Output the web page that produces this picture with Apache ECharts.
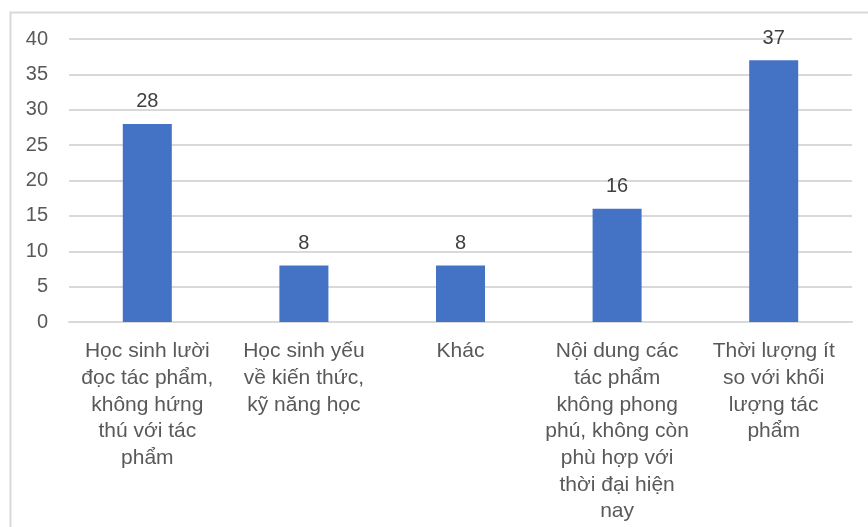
<!DOCTYPE html>
<html>
<head>
<meta charset="utf-8">
<script src="https://cdn.jsdelivr.net/npm/echarts@6/dist/echarts.min.js"></script>
<style>
  html, body { margin: 0; padding: 0; background: #ffffff; }
  #chart { width: 868px; height: 527px; }
</style>
</head>
<body>
<div id="chart"></div>
<script>
// Reasons given, one per bar
const categories = [
  'Học sinh lười\nđọc tác phẩm,\nkhông hứng\nthú với tác\nphẩm',
  'Học sinh yếu\nvề kiến thức,\nkỹ năng học',
  'Khác',
  'Nội dung các\ntác phẩm\nkhông phong\nphú, không còn\nphù hợp với\nthời đại hiện\nnay',
  'Thời lượng ít\nso với khối\nlượng tác\nphẩm'
];
// Number of responses for each reason
const counts = [28, 8, 8, 16, 37];
// Value axis range and step
const yMin = 0;
const yMax = 40;
const yStep = 5;

const FONT = '"Liberation Sans", Arial, sans-serif';

const chart = echarts.init(document.getElementById('chart'), null, { renderer: 'canvas' });
chart.setOption({
  backgroundColor: '#ffffff',
  animation: false,
  graphic: [{
    type: 'rect',
    shape: { x: 10.5, y: 12.5, width: 1000, height: 1000 },
    style: { fill: 'none', stroke: '#d9d9d9', lineWidth: 2 },
    silent: true
  }],
  grid: { left: 69, right: 16, top: 39, bottom: 205, containLabel: false },
  xAxis: {
    type: 'category',
    data: categories,
    axisLine: { show: true, lineStyle: { color: '#d9d9d9', width: 2 } },
    axisTick: { show: false },
    axisLabel: {
      interval: 0,
      margin: 16,
      color: '#595959',
      fontFamily: FONT,
      fontSize: 21,
      lineHeight: 26.7,
      align: 'center'
    }
  },
  yAxis: {
    type: 'value',
    min: yMin,
    max: yMax,
    interval: yStep,
    axisLine: { show: false },
    axisTick: { show: false },
    splitLine: { lineStyle: { color: '#d9d9d9', width: 2 } },
    axisLabel: {
      margin: 21,
      color: '#595959',
      fontFamily: FONT,
      fontSize: 20
    }
  },
  series: [{
    type: 'bar',
    data: counts,
    barWidth: '31.3%',
    itemStyle: { color: '#4472C4' },
    label: {
      show: true,
      position: 'top',
      distance: 12,
      color: '#404040',
      fontFamily: FONT,
      fontSize: 20
    }
  }]
});
</script>
</body>
</html>
